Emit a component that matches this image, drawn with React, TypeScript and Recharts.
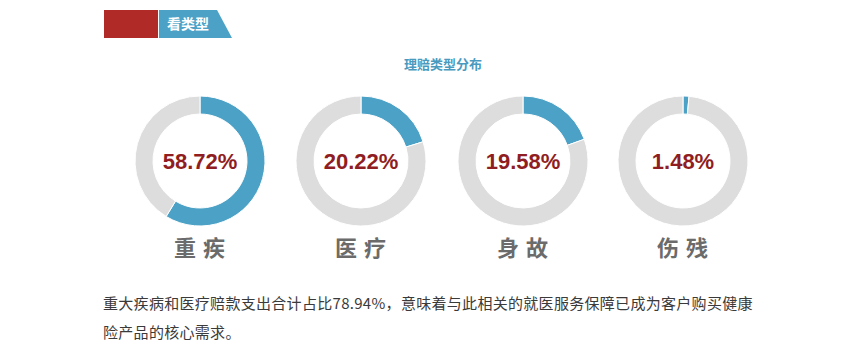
import React from "react";
import { PieChart, Pie, Cell } from "recharts";

const categories = ["重疾", "医疗", "身故", "伤残"];
const shares = [58.72, 20.22, 19.58, 1.48];
const shareLabels = ["58.72%", "20.22%", "19.58%", "1.48%"];
const centersX = [200, 361, 523, 683];

const BLUE = "#4ba1c6";
const GRAY = "#dddddd";
const RED = "#8f1d22";
const CY = 161;

const cjk = '"Noto Sans CJK SC", "Noto Sans", sans-serif';

export default function App() {
  return (
    <div style={{ position: "absolute", left: 0, top: 0, width: 858, height: 355, background: "#fff", overflow: "hidden" }}>
      <svg width={858} height={355} style={{ position: "absolute", left: 0, top: 0 }}>
        <rect x={104} y={10} width={54} height={28} fill="#b02a27" />
        <polygon points="159,10 217,10 232,38 159,38" fill="#4ba1c6" />
        <text x={167} y={29} fill="#fff" fontSize={14} fontWeight="bold" fontFamily={cjk}>看类型</text>
        <text x={443} y={69} fill="#4a9ac0" fontSize={13} fontWeight="bold" textAnchor="middle" fontFamily={cjk}>理赔类型分布</text>
      </svg>
      <div style={{ position: "absolute", left: 0, top: 0 }}>
        <PieChart width={858} height={355} margin={{ top: 0, right: 0, bottom: 0, left: 0 }}>
          {shares.map((v, i) => (
            <Pie
              key={categories[i]}
              data={[{ name: categories[i], value: v }, { name: "其他", value: 100 - v }]}
              dataKey="value"
              cx={centersX[i]}
              cy={CY}
              innerRadius={47}
              outerRadius={65}
              startAngle={90}
              endAngle={-270}
              stroke="#ffffff"
              strokeWidth={1}
              isAnimationActive={false}
            >
              <Cell fill={BLUE} />
              <Cell fill={GRAY} />
            </Pie>
          ))}
        </PieChart>
      </div>
      <svg width={858} height={355} style={{ position: "absolute", left: 0, top: 0, pointerEvents: "none" }}>
        {categories.map((c, i) => (
          <g key={c}>
            <text x={centersX[i]} y={CY + 8} fill={RED} fontSize={22} fontWeight="bold" textAnchor="middle" fontFamily='"Liberation Sans", Arial, sans-serif'>
              {shareLabels[i]}
            </text>
            <text x={centersX[i] + 3} y={256} fill="#6b6b6b" fontSize={22} fontWeight="bold" textAnchor="middle" letterSpacing={7} fontFamily={cjk}>
              {c}
            </text>
          </g>
        ))}
      </svg>
      <div style={{ position: "absolute", left: 103, top: 288, width: 662, fontSize: 15, lineHeight: "29px", color: "#3a3a3a", fontFamily: cjk, letterSpacing: 0.3 }}>
        重大疾病和医疗赔款支出合计占比78.94%，意味着与此相关的就医服务保障已成为客户购买健康险产品的核心需求。
      </div>
    </div>
  );
}
